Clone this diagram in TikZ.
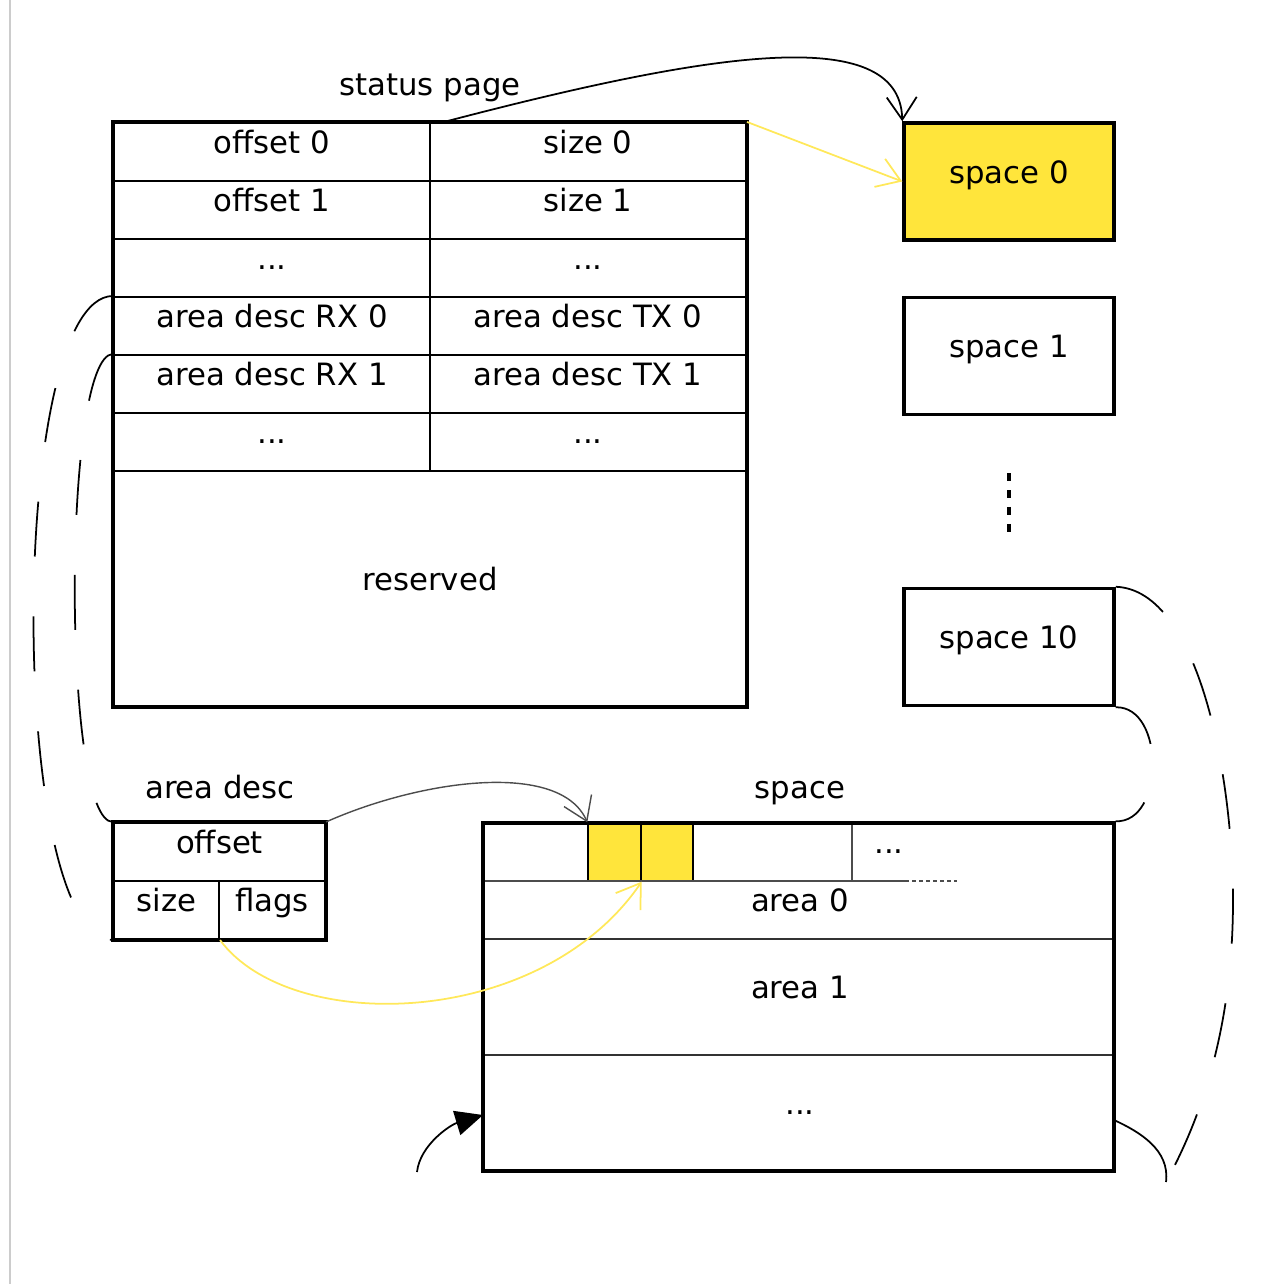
\documentclass[tikz,border=0pt]{standalone}
\usepackage{fontspec}
\setmainfont{DejaVu Sans}
\usetikzlibrary{arrows.meta}
\definecolor{spaceyellow}{RGB}{255,229,59}
\definecolor{linkyellow}{RGB}{255,232,90}
\tikzset{
  cell/.style={draw, line width=1.2pt, inner sep=0pt, minimum height=1.16cm, text height=0.75em, text depth=0.55em},
  spacebox/.style={draw, line width=2pt, inner sep=0pt, minimum width=4.2cm, minimum height=2.34cm, text height=0.75em, text depth=0.55em},
  lbl/.style={inner sep=0pt, text height=0.75em, text depth=0.55em},
  barb/.style={-{Straight Barb[length=0.45cm,width=0.6cm]}},
  brace/.style={line width=1pt, dash pattern=on 1.1cm off 1.2cm},
}
\begin{document}
\begin{tikzpicture}[x=0.02cm, y=-0.02cm, every node/.style={font=\fontsize{17.5}{21}\selectfont}]
\useasboundingbox (0,0) rectangle (1265,1284);
\draw[black!20, line width=1.2pt] (10,0) -- (10,1284);

% status page
\node[lbl] (stlabel) at (430,94) {status page};
\node[cell, minimum width=6.32cm] (off0) at (272,152) {offset 0};
\node[cell, minimum width=6.32cm] (size0) at (588,152) {size 0};
\node[cell, minimum width=6.32cm] (off1) at (272,210) {offset 1};
\node[cell, minimum width=6.32cm] (size1) at (588,210) {size 1};
\node[cell, minimum width=6.32cm] (odots) at (272,268) {...};
\node[cell, minimum width=6.32cm] (sdots) at (588,268) {...};
\node[cell, minimum width=6.32cm] (rx0) at (272,326) {area desc RX 0};
\node[cell, minimum width=6.32cm] (tx0) at (588,326) {area desc TX 0};
\node[cell, minimum width=6.32cm] (rx1) at (272,384) {area desc RX 1};
\node[cell, minimum width=6.32cm] (tx1) at (588,384) {area desc TX 1};
\node[cell, minimum width=6.32cm] (rxdots) at (272,442) {...};
\node[cell, minimum width=6.32cm] (txdots) at (588,442) {...};
\node[cell, minimum width=12.64cm, minimum height=4.7cm] (resv) at (430,588.5) {reserved};
\draw[line width=2pt] (off0.north west) rectangle (resv.south east);

% spaces
\node[spacebox, fill=spaceyellow] (sp0) at (1009,181.5) {space 0};
\node[spacebox] (sp1) at (1009,356) {space 1};
\draw[line width=2.4pt, dash pattern=on 0.16cm off 0.18cm] (1009,473) -- (1009,532);
\node[spacebox] (sp10) at (1009,647) {space 10};

\draw[barb, line width=1pt] ([xshift=0.3cm]size0.north west) .. controls (700,55) and (900,20) .. (sp0.north west);
\draw[barb, linkyellow, line width=1pt] (size0.north east) -- (sp0.west);

% area desc
\node[lbl] (adlabel) at (220,797) {area desc};
\node[cell, minimum width=4.22cm] (adoff) at (219.5,852) {offset};
\node[cell, minimum width=2.1cm] (adsize) at (166.5,910) {size};
\node[cell, minimum width=2.12cm] (adflags) at (272,910) {flags};
\draw[line width=2pt] (adoff.north west) rectangle (adflags.south east);

% space
\node[lbl] (splabel) at (800,797) {space};
\node[cell, fill=spaceyellow, line width=0.8pt, minimum width=1.06cm] (cell0) at (614.5,852) {};
\node[cell, fill=spaceyellow, line width=0.8pt, minimum width=1.04cm] (cell1) at (667,852) {};
\draw[black!70, line width=0.8pt] (483,881) -- (905,881);
\draw[black!70, line width=0.8pt, dash pattern=on 2pt off 2pt] (905,881) -- (957,881);
\draw[black!70, line width=0.8pt] (852,823) -- (852,881);
\draw[black!80, line width=1.2pt] (483,939) -- (1114,939);
\draw[black!80, line width=1.2pt] (483,1055) -- (1114,1055);
\node[draw, line width=2pt, minimum width=12.62cm, minimum height=6.96cm, inner sep=0pt] (spc) at (798.5,997) {};
\node[lbl] (celldots) at (889,852) {...};
\node[lbl] (area0) at (800,910) {area 0};
\node[lbl] (area1) at (800,997) {area 1};
\node[lbl] (areadots) at (800,1113) {...};

\draw[barb, black!70, line width=0.8pt] (adoff.north east) .. controls (420,780) and (560,760) .. (cell0.north west);
\draw[barb, linkyellow, line width=1pt] (adsize.south east) .. controls (290,1035) and (540,1030) .. (cell0.south east);

\coordinate (loopin) at (417,1172);
\coordinate (backin) at (483,1115);
\draw[-{Triangle[length=0.55cm,width=0.5cm]}, line width=1pt] (loopin) .. controls (420,1145) and (450,1125) .. (backin);

% braces
\draw[brace] (rx0.north west) .. controls (7,297) and (7,939) .. (adsize.south west);
\draw[brace] (rx1.north west) .. controls (62,355) and (62,823) .. (adoff.north west);
\coordinate (rbend) at (1166,1182);
\coordinate (rjoin) at (1114,1120);
\draw[brace] (sp10.south east) .. controls (1165,706) and (1165,823) .. (spc.north east);
\draw[brace] (sp10.north east) .. controls (1200,590) and (1233,780) .. (1233,900) .. controls (1233,1030) and (1200,1120) .. (rbend);
\draw[line width=1pt] (rjoin) .. controls (1140,1132) and (1170,1150) .. (rbend);
\end{tikzpicture}
\end{document}
